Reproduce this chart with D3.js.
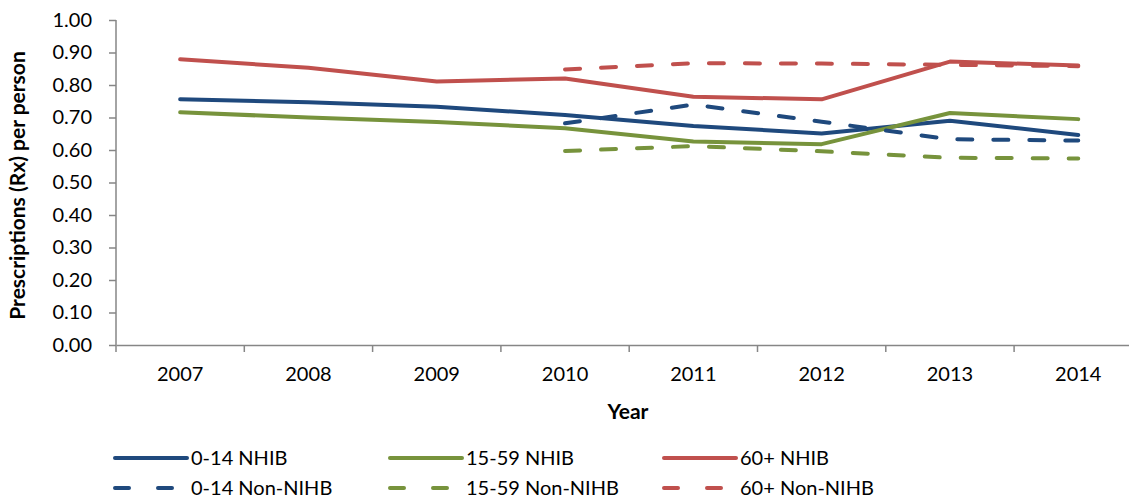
<!DOCTYPE html>
<html>
<head>
<meta charset="utf-8">
<script src="https://cdn.jsdelivr.net/npm/d3@7"></script>
<style>
  body { margin: 0; background: #fff; }
  svg { display: block; font-family: Lato, "Open Sans", sans-serif; }
</style>
</head>
<body>
<svg id="chart" width="1129" height="502"></svg>
<script>
const years = ["2007", "2008", "2009", "2010", "2011", "2012", "2013", "2014"];
const yTicks = [0, 0.1, 0.2, 0.3, 0.4, 0.5, 0.6, 0.7, 0.8, 0.9, 1.0];

const nhib014   = [0.756, 0.747, 0.733, 0.708, 0.674, 0.651, 0.690, 0.646];
const nhib1559  = [0.716, 0.700, 0.686, 0.667, 0.626, 0.618, 0.714, 0.695];
const nhib60    = [0.879, 0.853, 0.811, 0.820, 0.764, 0.756, 0.872, 0.860];

const nonYears  = ["2010", "2011", "2012", "2013", "2014"];
const non014    = [0.682, 0.740, 0.687, 0.633, 0.629];
const non1559   = [0.597, 0.612, 0.596, 0.576, 0.574];
const non60     = [0.848, 0.867, 0.866, 0.862, 0.858];

const seriesNames = ["0-14 NHIB", "15-59 NHIB", "60+ NHIB", "0-14 Non-NIHB", "15-59 Non-NIHB", "60+ Non-NIHB"];
const colors = ["#1F497D", "#77933C", "#C0504D"];

const series = [
  { name: seriesNames[0], x: years, y: nhib014, color: colors[0], dashed: false },
  { name: seriesNames[1], x: years, y: nhib1559, color: colors[1], dashed: false },
  { name: seriesNames[2], x: years, y: nhib60, color: colors[2], dashed: false },
  { name: seriesNames[3], x: nonYears, y: non014, color: colors[0], dashed: true },
  { name: seriesNames[4], x: nonYears, y: non1559, color: colors[1], dashed: true },
  { name: seriesNames[5], x: nonYears, y: non60, color: colors[2], dashed: true }
];

const svg = d3.select("#chart");
const plotLeft = 116, plotTop = 20, plotBottom = 345, band = 128.3;
const axisColor = "#868686";
const dash = "15,21";

const x = d3.scaleBand().domain(years).range([plotLeft, plotLeft + band * years.length]).padding(0);
const y = d3.scaleLinear().domain([0, 1]).range([plotBottom, plotTop]);

// y axis
const yAxis = d3.axisLeft(y).tickValues(yTicks).tickFormat(d3.format(".2f")).tickSize(7).tickSizeOuter(0);
const gy = svg.append("g").attr("transform", `translate(${plotLeft},0)`).call(yAxis);
gy.select(".domain").attr("stroke", axisColor).attr("stroke-width", 1.5).attr("d", `M0,${plotTop}V${plotBottom + 7}`);
gy.selectAll(".tick line").attr("stroke", axisColor).attr("stroke-width", 1.5);
gy.selectAll(".tick text").attr("x", -24).attr("fill", "#000").style("font-size", "20px").style("font-family", "Lato, sans-serif");

// x axis
const xAxis = d3.axisBottom(x).tickSize(0).tickSizeOuter(0);
const gx = svg.append("g").attr("transform", `translate(0,${plotBottom})`).call(xAxis);
gx.select(".domain").attr("stroke", axisColor).attr("stroke-width", 1.5);
gx.selectAll(".tick text").attr("y", 22).attr("fill", "#000").style("font-size", "20px").style("font-family", "Lato, sans-serif");
gx.selectAll(".bound").data(years.slice(1)).enter().append("line")
  .attr("class", "bound")
  .attr("x1", d => x(d)).attr("x2", d => x(d))
  .attr("y1", 0).attr("y2", 7)
  .attr("stroke", axisColor).attr("stroke-width", 1.5);

// axis titles
svg.append("text")
  .attr("transform", `translate(25,${(plotTop + plotBottom) / 2 + 3}) rotate(-90)`)
  .attr("text-anchor", "middle")
  .style("font-size", "21px").style("font-weight", "bold")
  .text("Prescriptions (Rx) per person");
svg.append("text")
  .attr("x", 628).attr("y", 419)
  .attr("text-anchor", "middle")
  .style("font-size", "21px").style("font-weight", "bold")
  .text("Year");

// lines
const line = d3.line()
  .x(d => x(d.x) + x.bandwidth() / 2)
  .y(d => y(d.y));

series.forEach(s => {
  const pts = s.x.map((xx, i) => ({ x: xx, y: s.y[i] }));
  svg.append("path")
    .datum(pts)
    .attr("d", line)
    .attr("fill", "none")
    .attr("stroke", s.color)
    .attr("stroke-width", 4)
    .attr("stroke-linecap", "round")
    .attr("stroke-linejoin", "round")
    .attr("stroke-dasharray", s.dashed ? dash : null);
});

// legend
const legX = [115, 390, 664];
const legY = [458, 488];
series.forEach((s, i) => {
  const col = i % 3, row = Math.floor(i / 3);
  const g = svg.append("g").attr("transform", `translate(${legX[col]},${legY[row]})`);
  g.append("line")
    .attr("x1", 0).attr("x2", 72).attr("y1", 0).attr("y2", 0)
    .attr("stroke", s.color).attr("stroke-width", 4)
    .attr("stroke-linecap", "round")
    .attr("stroke-dasharray", s.dashed ? "14,29" : null);
  g.append("text")
    .attr("x", 76).attr("y", 0).attr("dy", "0.35em")
    .style("font-size", "20px")
    .text(s.name);
});
</script>
</body>
</html>
